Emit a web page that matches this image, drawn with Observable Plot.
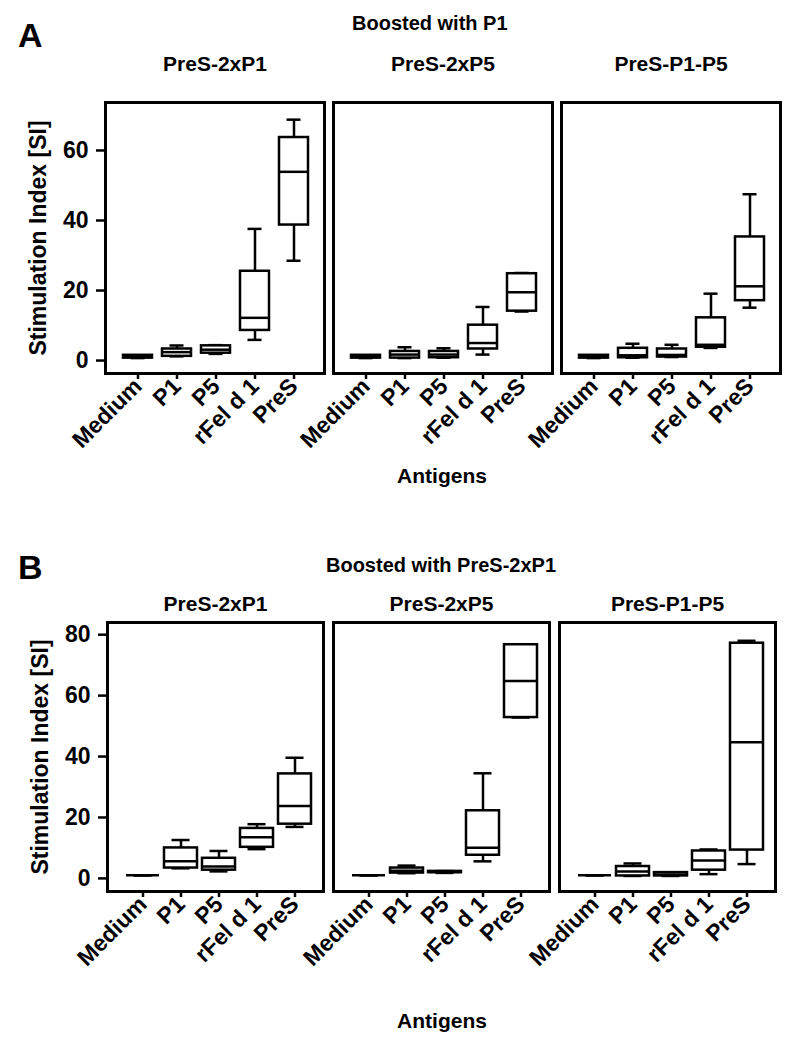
<!DOCTYPE html>
<html>
<head>
<meta charset="utf-8">
<script src="https://cdn.jsdelivr.net/npm/d3@7"></script>
<script src="https://cdn.jsdelivr.net/npm/@observablehq/plot@0.6"></script>
<style>
  html, body { margin: 0; padding: 0; background: #fff; }
  #root { position: relative; width: 800px; height: 1054px; font-family: "Liberation Sans", Arial, sans-serif; font-weight: bold; color: #000; }
  .abs { position: absolute; white-space: nowrap; line-height: 1; }
  .letter { font-size: 34px; }
  .title { font-size: 20px; }
  .xlab { font-size: 21px; transform: translateX(-50%); }
  svg { position: absolute; left: 0; }
</style>
</head>
<body>
<div id="root">
  <div class="abs letter" style="left:18px; top:18px;">A</div>
  <div class="abs title" style="left:352px; top:13px;">Boosted with P1</div>
  <div class="abs xlab" style="left:442px; top:465px;">Antigens</div>
  <div class="abs letter" style="left:18px; top:550px;">B</div>
  <div class="abs title" style="left:441px; top:555px; transform: translateX(-50%);">Boosted with PreS-2xP1</div>
  <div class="abs xlab" style="left:442px; top:1010px;">Antigens</div>
</div>
<script>
const antigens = ["Medium", "P1", "P5", "rFel d 1", "PreS"];
const vaccines = ["PreS-2xP1", "PreS-2xP5", "PreS-P1-P5"];
const yTicksA = [0, 20, 40, 60];
const yTicksB = [0, 20, 40, 60, 80];

// Panel A (boosted with P1): order = vaccine-major, antigen-minor
const aMin = [0.7, 1.2, 1.9, 5.9, 28.5,   0.7, 0.7, 0.8, 1.7, 14.0,   0.7, 0.8, 1.0, 3.6, 15.1];
const aQ1  = [0.7, 1.2, 2.1, 8.6, 38.7,   0.7, 0.7, 0.8, 3.3, 14.1,   0.7, 0.8, 1.0, 3.8, 17.1];
const aMed = [1.0, 2.4, 3.1, 12.2, 53.9,  1.0, 1.7, 1.7, 5.0, 19.5,   1.0, 1.5, 1.6, 4.5, 21.2];
const aQ3  = [1.5, 3.3, 4.2, 25.5, 63.7,  1.5, 2.6, 2.6, 10.1, 24.8,  1.5, 3.5, 3.3, 12.2, 35.3];
const aMax = [1.5, 4.3, 4.4, 37.6, 68.8,  1.5, 3.8, 3.5, 15.3, 25.0,  1.5, 4.8, 4.5, 19.1, 47.5];

// Panel B (boosted with PreS-2xP1)
const bMin = [1, 3.3, 2.3, 9.6, 16.9,   1, 1.7, 1.8, 5.6, 52.8,    1, 0.8, 0.8, 1.4, 4.7];
const bQ1  = [1, 3.4, 2.7, 10.2, 17.8,  1, 1.75, 1.9, 7.6, 52.8,   1, 0.8, 0.8, 2.7, 9.3];
const bMed = [1, 5.6, 3.9, 13.5, 23.8,  1, 2.5, 2.1, 10.1, 64.8,   1, 2.3, 1.3, 5.9, 44.7];
const bQ3  = [1, 10.0, 6.6, 16.4, 34.3, 1, 3.4, 2.3, 22.2, 76.7,   1, 3.9, 1.9, 9.0, 77.2];
const bMax = [1, 12.6, 9.0, 17.8, 39.6, 1, 4.2, 2.4, 34.5, 76.7,   1, 4.9, 1.9, 9.5, 78.0];

function rows(mn, q1, md, q3, mx) {
  const out = [];
  vaccines.forEach((v, i) => antigens.forEach((a, j) => {
    const k = i * antigens.length + j;
    out.push({vac: v, ant: a, min: mn[k], q1: q1[k], med: md[k], q3: q3[k], max: mx[k]});
  }));
  return out;
}

function panel(data, o) {
  const sw = 2.5;
  return Plot.plot({
    width: 800,
    height: o.height,
    marginTop: o.mt, marginBottom: o.mb, marginLeft: o.ml, marginRight: o.mr,
    style: {fontFamily: "'Liberation Sans', Arial, sans-serif", fontWeight: "bold", color: "#000", background: "transparent", overflow: "visible"},
    fx: {domain: vaccines, paddingInner: o.fxPad, paddingOuter: 0},
    x: {domain: antigens, paddingInner: o.xPad, paddingOuter: 0, insetLeft: o.xl, insetRight: o.xr},
    y: {domain: o.ydom},
    marks: [
      Plot.axisFx({anchor: "top", tickSize: 0, tickPadding: o.fxTp, fontSize: 21, label: null}),
      Plot.axisX({tickRotate: -45, tickSize: 6, tickPadding: 3, fontSize: 23, label: null, strokeWidth: 2.5}),
      Plot.axisY({ticks: o.yticks, tickSize: 9, tickPadding: 8, fontSize: 23, strokeWidth: 2.5,
                  label: "Stimulation Index [SI]", labelAnchor: "center", labelOffset: 76, labelArrow: "none"}),
      Plot.ruleX(data, {fx: "vac", x: "ant", y1: "min", y2: "max", stroke: "#000", strokeWidth: sw}),
      Plot.tickY(data, {fx: "vac", x: "ant", y: "min", stroke: "#000", strokeWidth: sw, inset: o.cap}),
      Plot.tickY(data, {fx: "vac", x: "ant", y: "max", stroke: "#000", strokeWidth: sw, inset: o.cap}),
      Plot.barY(data, {fx: "vac", x: "ant", y1: "q1", y2: "q3", fill: "#fff", stroke: "#000", strokeWidth: sw}),
      Plot.tickY(data, {fx: "vac", x: "ant", y: "med", stroke: "#000", strokeWidth: sw}),
      Plot.frame({stroke: "#000", strokeWidth: 3})
    ]
  });
}

const root = document.getElementById("root");
const svgA = panel(rows(aMin, aQ1, aMed, aQ3, aMax), {
  height: 520, mt: 102, mb: 147, ml: 104, mr: 19,
  fxPad: 0.04, xPad: 0.26, xl: 17, xr: 15, cap: 7.5, fxTp: 32,
  ydom: [-3.7, 73.7], yticks: yTicksA
});
svgA.style.top = "0px";
root.appendChild(svgA);

const svgB = panel(rows(bMin, bQ1, bMed, bQ3, bMax), {
  height: 534, mt: 102, mb: 163, ml: 106, mr: 25,
  fxPad: 0.045, xPad: 0.13, xl: 18, xr: 11, cap: 7.5, fxTp: 12,
  ydom: [-4.3, 84], yticks: yTicksB
});
svgB.style.top = "520px";
root.appendChild(svgB);
</script>
</body>
</html>
